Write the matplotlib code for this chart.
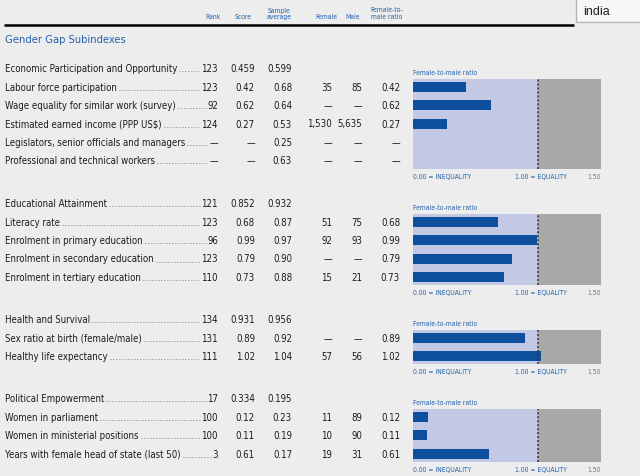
import numpy as np
import matplotlib.pyplot as plt
from matplotlib import font_manager as fm
from matplotlib.patches import Rectangle

# 数据
subindex_names = ["Economic Participation and Opportunity", "Educational Attainment",
                  "Health and Survival", "Political Empowerment"]
subindex_rank = ["123", "121", "134", "17"]
subindex_score = ["0.459", "0.852", "0.931", "0.334"]
subindex_avg = ["0.599", "0.932", "0.956", "0.195"]

econ_labels = ["Labour force participation", "Wage equality for similar work (survey)",
               "Estimated earned income (PPP US$)", "Legislators, senior officials and managers",
               "Professional and technical workers"]
econ_rank = ["123", "92", "124", "—", "—"]
econ_score = ["0.42", "0.62", "0.27", "—", "—"]
econ_avg = ["0.68", "0.64", "0.53", "0.25", "0.63"]
econ_female = ["35", "—", "1,530", "—", "—"]
econ_male = ["85", "—", "5,635", "—", "—"]
econ_ratio = [0.42, 0.62, 0.27, np.nan, np.nan]

edu_labels = ["Literacy rate", "Enrolment in primary education",
              "Enrolment in secondary education", "Enrolment in tertiary education"]
edu_rank = ["123", "96", "123", "110"]
edu_score = ["0.68", "0.99", "0.79", "0.73"]
edu_avg = ["0.87", "0.97", "0.90", "0.88"]
edu_female = ["51", "92", "—", "15"]
edu_male = ["75", "93", "—", "21"]
edu_ratio = [0.68, 0.99, 0.79, 0.73]

health_labels = ["Sex ratio at birth (female/male)", "Healthy life expectancy"]
health_rank = ["131", "111"]
health_score = ["0.89", "1.02"]
health_avg = ["0.92", "1.04"]
health_female = ["—", "57"]
health_male = ["—", "56"]
health_ratio = [0.89, 1.02]

pol_labels = ["Women in parliament", "Women in ministerial positions",
              "Years with female head of state (last 50)"]
pol_rank = ["100", "100", "3"]
pol_score = ["0.12", "0.11", "0.61"]
pol_avg = ["0.23", "0.19", "0.17"]
pol_female = ["11", "10", "19"]
pol_male = ["89", "90", "31"]
pol_ratio = [0.12, 0.11, 0.61]

columns = ["Rank", "Score", "Sample\naverage", "Female", "Male", "Female-to-\nmale ratio"]
axis_notes = ["0.00 = INEQUALITY", "1.00 = EQUALITY", "1.50"]

sections = [
    (econ_labels, econ_rank, econ_score, econ_avg, econ_female, econ_male, econ_ratio),
    (edu_labels, edu_rank, edu_score, edu_avg, edu_female, edu_male, edu_ratio),
    (health_labels, health_rank, health_score, health_avg, health_female, health_male, health_ratio),
    (pol_labels, pol_rank, pol_score, pol_avg, pol_female, pol_male, pol_ratio),
]

# 字体：优先使用窄体
names = {(f.name, f.stretch) for f in fm.fontManager.ttflist}
if any(n == "Liberation Sans Narrow" for n, s in names):
    FONT = dict(family=["Liberation Sans Narrow", "DejaVu Sans"])
    scale = 1.18
elif ("DejaVu Sans", "condensed") in names:
    FONT = dict(family=["DejaVu Sans"], stretch="condensed")
    scale = 0.97
else:
    FONT = dict(family=["Liberation Sans", "DejaVu Sans"])
    scale = 1.0
plt.rcParams["font.family"] = FONT["family"]
if "stretch" in FONT:
    plt.rcParams["font.stretch"] = FONT["stretch"]

# 样式
W, H = 640, 476
BG = "#ededed"
BLUE = "#2361ab"
BAR = "#0d4f9c"
LAV = "#c3c8e4"
GREY = "#a8a8a8"
TXT = "#1c1c1c"
FS = 7.2 * scale
FS_SMALL = 5.0 * scale

section_y = [68, 203, 319, 398]
step = 18.4
col_right = [218, 255, 292, 332, 362, 400]
col_head_x = [213, 243, 279, 326, 353, 387]
px0, px1 = 413, 601

fig = plt.figure(figsize=(W / 100, H / 100), dpi=100)
fig.patch.set_facecolor(BG)
ax = fig.add_axes([0, 0, 1, 1])
ax.set_xlim(0, W)
ax.set_ylim(H, 0)
ax.axis("off")

# 表头
for name, x in zip(columns, col_head_x):
    ax.text(x, 19, name, color=BLUE, fontsize=FS_SMALL, ha="center", va="baseline",
            linespacing=1.1)
ax.plot([4, 574], [25, 25], color="black", lw=1.8, solid_capstyle="butt")
ax.add_patch(Rectangle((576, -2), 70, 24, facecolor="#f7f7f7", edgecolor="#b5b5b5", lw=1))
ax.text(583, 12, "india", fontsize=9, color="#222222", va="center",
        family=["Liberation Sans", "DejaVu Sans"], stretch="normal")
ax.text(5, 40, "Gender Gap Subindexes", color=BLUE, fontsize=8.3 * scale, va="center")

renderer = fig.canvas.get_renderer()
leaders = []


def add_row(y, label, vals):
    base = y + 3.7
    t = ax.text(5, base, label, fontsize=FS, color=TXT, va="baseline")
    texts = []
    for v, x in zip(vals, col_right):
        texts.append(ax.text(x, base, v, fontsize=FS, color=TXT, ha="right", va="baseline"))
    leaders.append((t, texts[0], base))


for i, sec in enumerate(sections):
    labels, rank, score, avg, fem, male, ratio = sec
    y0 = section_y[i]
    add_row(y0, subindex_names[i], [subindex_rank[i], subindex_score[i], subindex_avg[i]])
    rows_y = [y0 + 19 + k * step for k in range(len(labels))]
    for k, lab in enumerate(labels):
        r = "—" if np.isnan(ratio[k]) else f"{ratio[k]:.2f}"
        add_row(rows_y[k], lab, [rank[k], score[k], avg[k], fem[k], male[k], r])

    # 右侧条形图
    top = rows_y[0] - 8
    bottom = rows_y[-1] + 8
    n = len(labels)
    pad = 8 / step
    bax = fig.add_axes([px0 / W, 1 - bottom / H, (px1 - px0) / W, (bottom - top) / H])
    bax.set_xlim(0, 1.5)
    bax.set_ylim(n - 1 + pad, -pad)
    bax.axvspan(0, 1, color=LAV, lw=0)
    bax.axvspan(1, 1.5, color=GREY, lw=0)
    bax.axvline(1, color="#333333", lw=1.1, linestyle=(0, (1.4, 1.2)))
    bax.barh(np.arange(n), np.nan_to_num(ratio), height=10 / step, color=BAR)
    bax.axis("off")

    ax.text(px0, top - 4, "Female-to-male ratio", color=BLUE, fontsize=FS_SMALL, va="baseline")
    ax.text(px0, bottom + 10, axis_notes[0], color=BLUE, fontsize=FS_SMALL, va="baseline")
    ax.text(515, bottom + 10, axis_notes[1], color=BLUE, fontsize=FS_SMALL, va="baseline")
    ax.text(px1, bottom + 10, axis_notes[2], color="#777777", fontsize=FS_SMALL, ha="right",
            va="baseline")

# 点状引导线
for t, r, base in leaders:
    x_end_label = t.get_window_extent(renderer).x1
    x_start_rank = r.get_window_extent(renderer).x0
    if x_start_rank - x_end_label > 6:
        ax.plot([x_end_label + 2, x_start_rank - 1.5], [base - 0.8, base - 0.8],
                color="#555555", lw=0.6, linestyle=(0, (1, 2.6)))

fig.savefig("out.png", dpi=100, facecolor=fig.get_facecolor())
